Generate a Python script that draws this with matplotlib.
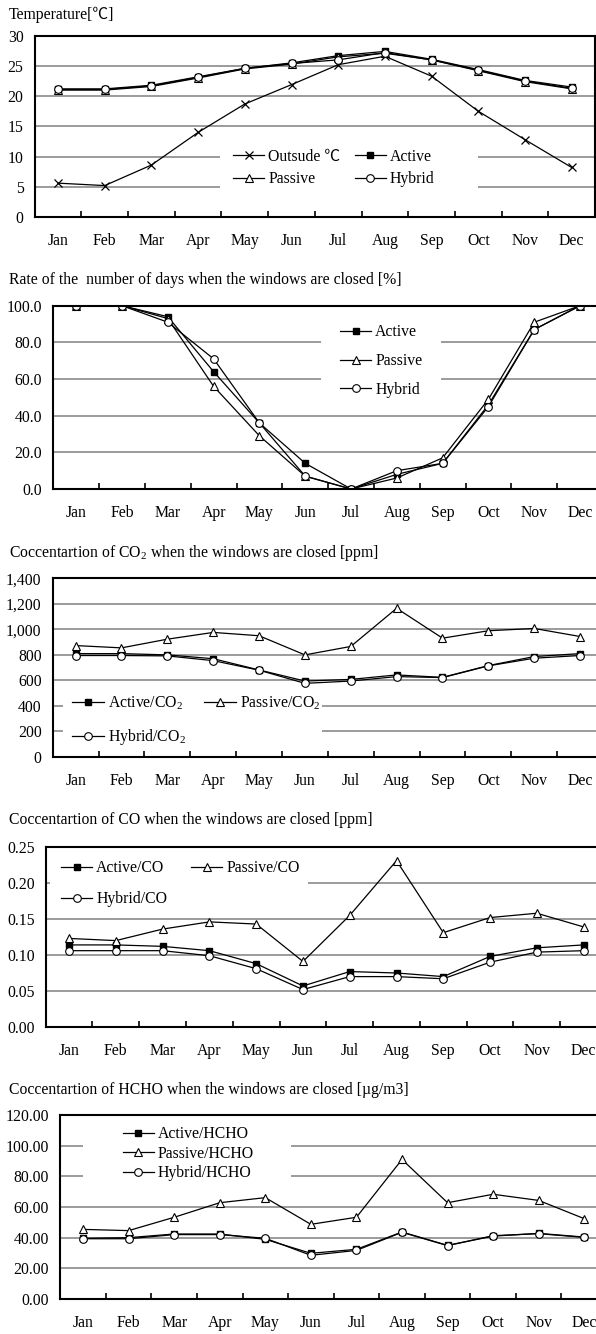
import numpy as np
import matplotlib
matplotlib.use("Agg")
import matplotlib.pyplot as plt
from matplotlib.patches import Rectangle
from matplotlib.ticker import FuncFormatter

# --- Data ---
months = ['Jan', 'Feb', 'Mar', 'Apr', 'May', 'Jun', 'Jul', 'Aug', 'Sep', 'Oct', 'Nov', 'Dec']

temp_outside = [5.6, 5.2, 8.6, 14.0, 18.7, 21.9, 25.2, 26.6, 23.3, 17.5, 12.8, 8.2]
temp_active = [21.2, 21.2, 21.8, 23.2, 24.6, 25.5, 26.7, 27.4, 26.1, 24.4, 22.6, 21.5]
temp_passive = [21.0, 21.0, 21.6, 23.0, 24.5, 25.3, 26.5, 27.1, 26.0, 24.2, 22.4, 21.2]
temp_hybrid = [21.1, 21.1, 21.7, 23.1, 24.6, 25.4, 26.0, 27.2, 26.0, 24.3, 22.5, 21.3]

rate_active = [100, 100, 94, 64, 36, 14, 0, 8, 14, 46, 87, 100]
rate_passive = [100, 100, 93, 56, 29, 7, 0, 6, 17, 49, 91, 100]
rate_hybrid = [100, 100, 91, 71, 36, 7, 0, 10, 14, 45, 87, 100]

co2_active = [810, 810, 800, 770, 682, 595, 608, 643, 624, 716, 787, 810]
co2_passive = [873, 855, 923, 976, 950, 800, 866, 1165, 931, 989, 1007, 944]
co2_hybrid = [795, 795, 792, 755, 680, 577, 595, 630, 622, 714, 774, 795]

co_active = [0.114, 0.114, 0.112, 0.106, 0.088, 0.057, 0.077, 0.075, 0.070, 0.098, 0.110, 0.114]
co_passive = [0.123, 0.120, 0.136, 0.146, 0.143, 0.091, 0.155, 0.231, 0.131, 0.152, 0.158, 0.139]
co_hybrid = [0.106, 0.106, 0.106, 0.099, 0.081, 0.052, 0.070, 0.070, 0.067, 0.090, 0.104, 0.106]

hcho_active = [39.6, 40.0, 42.4, 42.4, 38.9, 29.8, 32.4, 43.7, 35.0, 41.0, 42.8, 40.4]
hcho_passive = [45.4, 44.6, 53.3, 62.8, 66.1, 48.7, 53.3, 91.0, 62.8, 68.3, 64.3, 52.4]
hcho_hybrid = [39.3, 39.3, 42.0, 42.0, 39.6, 28.5, 31.7, 43.5, 34.8, 41.3, 42.6, 40.2]

# --- Figure setup (pixel based layout) ---
W, H = 596, 1334
FS = 11.3
plt.rcParams['font.family'] = ['Liberation Serif', 'Noto Sans CJK JP', 'DejaVu Serif']
plt.rcParams['font.size'] = FS
plt.rcParams['mathtext.fontset'] = 'custom'
plt.rcParams['mathtext.rm'] = 'Liberation Serif'
plt.rcParams['mathtext.it'] = 'Liberation Serif:italic'

fig = plt.figure(figsize=(W / 100, H / 100), dpi=100)
x = np.arange(len(months))

STYLE = {
    'outside': dict(marker='x', color='black', lw=0.9, ms=6, mew=0.9),
    'active': dict(marker='s', color='black', lw=0.9, ms=5, mfc='black', mec='black'),
    'passive': dict(marker='^', color='black', lw=0.9, ms=6, mfc='white', mec='black', mew=0.8),
    'hybrid': dict(marker='o', color='black', lw=0.9, ms=5.5, mfc='white', mec='black', mew=0.8),
}


def px_axes(left, top, bottom, right):
    return fig.add_axes([left / W, 1 - bottom / H, (right - left) / W, (bottom - top) / H])


def style_axes(ax, ymax, ystep, fmt):
    ax.set_xlim(-0.5, 11.5)
    ax.set_ylim(0, ymax)
    ax.set_yticks(np.arange(0, ymax + ystep / 2, ystep))
    ax.yaxis.set_major_formatter(FuncFormatter(fmt))
    ax.set_xticks(x)
    ax.set_xticklabels(months)
    ax.set_xticks(np.arange(0.5, 11, 1), minor=True)
    ax.tick_params(axis='x', which='major', length=0, pad=11.5)
    ax.tick_params(axis='x', which='minor', direction='in', length=4.3, width=1.2)
    ax.tick_params(axis='y', length=0, pad=8)
    ax.yaxis.grid(True, color='#808080', linewidth=1.1)
    for s in ax.spines.values():
        s.set_linewidth(1.5)
        s.set_color('black')


def title(text, y):
    fig.text(9 / W, 1 - y / H, text, ha='left', va='center', fontsize=FS)


def mask(ax, x0, y0, x1, y1):
    # white box behind the legend that hides the gridlines
    ax.add_patch(Rectangle((x0 / W, 1 - y1 / H), (x1 - x0) / W, (y1 - y0) / H,
                           transform=fig.transFigure, facecolor='white',
                           edgecolor='none', zorder=1.8))


def legend(ax, handles, labels, xpx, ypx, ncol=1, spacing=0.5, colspace=1.2):
    ax.legend(handles, labels, loc='center left', ncol=ncol,
              bbox_to_anchor=(xpx / W, 1 - ypx / H), bbox_transform=fig.transFigure,
              frameon=False, borderpad=0, borderaxespad=0, handlelength=2.0,
              handletextpad=0.25, labelspacing=spacing, columnspacing=colspace,
              fontsize=FS)


# 1. Temperature
ax1 = px_axes(34.7, 35.7, 217, 595)
l_out, = ax1.plot(x, temp_outside, **STYLE['outside'])
l_act, = ax1.plot(x, temp_active, **STYLE['active'])
l_pas, = ax1.plot(x, temp_passive, **STYLE['passive'])
l_hyb, = ax1.plot(x, temp_hybrid, **STYLE['hybrid'])
style_axes(ax1, 30, 5, lambda v, p: f'{v:.0f}')
mask(ax1, 220, 145, 478, 195)
legend(ax1, [l_out, l_pas, l_act, l_hyb], ['Outsude ℃', 'Passive', 'Active', 'Hybrid'],
       233, 168, ncol=2, spacing=0.4, colspace=0.9)
title('Temperature[℃]', 15)

# 2. Rate of days with windows closed
ax2 = px_axes(53.3, 305.7, 489, 603)
a, = ax2.plot(x, rate_active, **STYLE['active'])
p, = ax2.plot(x, rate_passive, **STYLE['passive'])
h, = ax2.plot(x, rate_hybrid, **STYLE['hybrid'])
style_axes(ax2, 100, 20, lambda v, p: f'{v:.1f}')
mask(ax2, 321, 325, 441, 398)
legend(ax2, [a, p, h], ['Active', 'Passive', 'Hybrid'], 340, 361, spacing=0.8)
title('Rate of the  number of days when the windows are closed [%]', 280)

# 3. CO2
ax3 = px_axes(52.7, 578.3, 757, 603)
a, = ax3.plot(x, co2_active, **STYLE['active'])
p, = ax3.plot(x, co2_passive, **STYLE['passive'])
h, = ax3.plot(x, co2_hybrid, **STYLE['hybrid'])
style_axes(ax3, 1400, 200, lambda v, p: f'{v:,.0f}')
mask(ax3, 63, 695, 322, 745)
legend(ax3, [a, h, p], [r'Active/CO$_\mathrm{2}$', r'Hybrid/CO$_\mathrm{2}$', r'Passive/CO$_\mathrm{2}$'],
       72.4, 720.8, ncol=2, spacing=1.0, colspace=1.2)
title(r'Coccentartion of CO$_\mathrm{2}$ when the windows are closed [ppm]', 552.7)

# 4. CO
ax4 = px_axes(45.7, 847, 1027, 607)
a, = ax4.plot(x, co_active, **STYLE['active'])
p, = ax4.plot(x, co_passive, **STYLE['passive'])
h, = ax4.plot(x, co_hybrid, **STYLE['hybrid'])
style_axes(ax4, 0.25, 0.05, lambda v, p: f'{v:.2f}')
mask(ax4, 50, 860, 308, 908)
legend(ax4, [a, h, p], ['Active/CO', 'Hybrid/CO', 'Passive/CO'],
       61, 883.7, ncol=2, spacing=0.95, colspace=1.5)
title('Coccentartion of CO when the windows are closed [ppm]', 820)

# 5. HCHO
ax5 = px_axes(60.3, 1115, 1299, 607)
a, = ax5.plot(x, hcho_active, **STYLE['active'])
p, = ax5.plot(x, hcho_passive, **STYLE['passive'])
h, = ax5.plot(x, hcho_hybrid, **STYLE['hybrid'])
style_axes(ax5, 120, 20, lambda v, p: f'{v:.2f}')
mask(ax5, 83, 1125, 291, 1190)
legend(ax5, [a, p, h], ['Active/HCHO', 'Passive/HCHO', 'Hybrid/HCHO'],
       122.6, 1153.8, spacing=0.22)
title('Coccentartion of HCHO when the windows are closed [µg/m3]', 1090)

fig.savefig('out.png', dpi=100)
